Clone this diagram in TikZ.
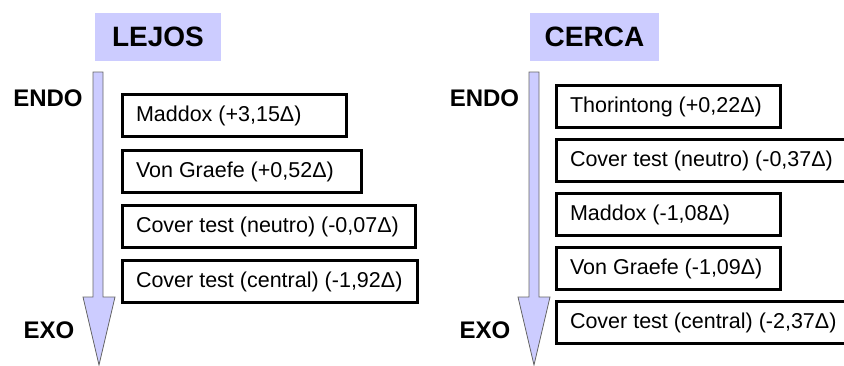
\documentclass[tikz,border=0pt]{standalone}
\usepackage{fontspec}
\setmainfont{Liberation Sans}
\usetikzlibrary{positioning}
\definecolor{lila}{RGB}{204,204,255}

\begin{document}
\begin{tikzpicture}[x=1pt,y=-1pt,
  titulo/.style={fill=lila, minimum width=126pt, minimum height=48pt, inner sep=0pt,
    font=\fontsize{28}{30}\selectfont\bfseries},
  extremo/.style={anchor=base, inner sep=0pt, font=\fontsize{24}{26}\selectfont\bfseries},
  prueba/.style={draw, line width=3pt, minimum height=42pt, inner xsep=13.5pt,
    inner ysep=0pt, anchor=north west,
    execute at begin node={\hbox to #1\bgroup}, execute at end node={\hfil\egroup},
    font=\fontsize{21.5}{24}\selectfont},
  flecha/.style={fill=lila, draw=black!60, line width=0.8pt}]

  \clip (0,0) rectangle (844,365);

  % lejos
  \node[titulo] (lejos) at (158,37) {LEJOS};
  \coordinate (fl) at (98,72);
  \draw[flecha] ([xshift=-5pt]fl) -- ([xshift=5pt]fl) -- ++(0,225) -- ++(12,0)
    -- ++(-16,68) -- ++(-16,-68) -- ++(10,0) -- cycle;
  \node[extremo] (endoL) at (48,106) {ENDO};
  \node[extremo] (exoL) at (49,338) {EXO};
  \node[prueba=197pt] (l1) at (121,93) {Maddox (+3,15Δ)};
  \node[prueba=212pt, below=11pt of l1.south west, anchor=north west] (l2) {Von Graefe (+0,52Δ)};
  \node[prueba=266pt, below=10pt of l2.south west, anchor=north west] (l3) {Cover test (neutro) (-0,07Δ)};
  \node[prueba=268pt, below=10pt of l3.south west, anchor=north west] (l4) {Cover test (central) (-1,92Δ)};

  % cerca
  \node[titulo, minimum width=129pt] (cerca) at (594.5,37) {CERCA};
  \coordinate (fr) at (534,72);
  \draw[flecha] ([xshift=-5pt]fr) -- ([xshift=5pt]fr) -- ++(0,225) -- ++(11,0)
    -- ++(-16,68) -- ++(-16,-68) -- ++(11,0) -- cycle;
  \node[extremo] (endoR) at (484.5,106) {ENDO};
  \node[extremo] (exoR) at (485,338) {EXO};
  \node[prueba=197pt] (r1) at (555,84) {Thorintong (+0,22Δ)};
  \node[prueba=293pt, below=9pt of r1.south west, anchor=north west] (r2) {Cover test (neutro) (-0,37Δ)};
  \node[prueba=197pt, below=9pt of r2.south west, anchor=north west] (r3) {Maddox (-1,08Δ)};
  \node[prueba=197pt, below=9pt of r3.south west, anchor=north west] (r4) {Von Graefe (-1,09Δ)};
  \node[prueba=293pt, below=9pt of r4.south west, anchor=north west] (r5) {Cover test (central) (-2,37Δ)};
\end{tikzpicture}
\end{document}
